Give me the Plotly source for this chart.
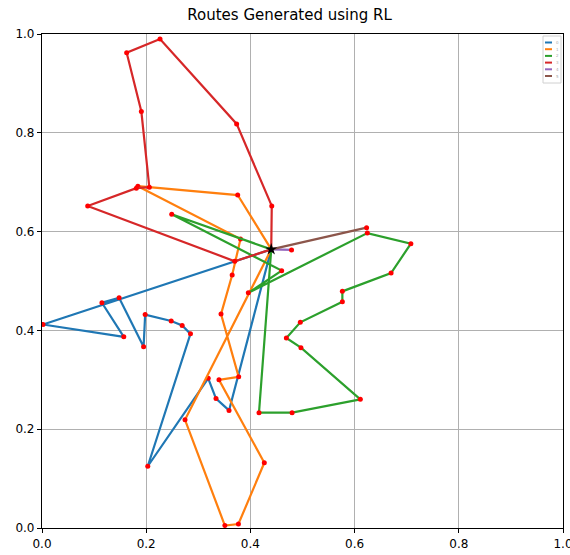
import plotly.graph_objects as go

# ---- data ----
depot_x = 0.44
depot_y = 0.564

route_names = ["0", "1", "2", "3", "4", "5"]
route_colors = ["#1f77b4", "#ff7f0e", "#2ca02c", "#d62728", "#9467bd", "#8c564b"]

route0_x = [0.44, 0.002, 0.157, 0.115, 0.148, 0.195, 0.198, 0.248, 0.269, 0.285, 0.203, 0.319, 0.334, 0.359, 0.44]
route0_y = [0.564, 0.412, 0.387, 0.456, 0.466, 0.367, 0.432, 0.419, 0.410, 0.393, 0.125, 0.303, 0.262, 0.238, 0.564]

route1_x = [0.44, 0.3756, 0.184, 0.381, 0.365, 0.3436, 0.3775, 0.3397, 0.4267, 0.377, 0.351, 0.2745, 0.44]
route1_y = [0.564, 0.674, 0.692, 0.585, 0.512, 0.433, 0.306, 0.300, 0.132, 0.008, 0.005, 0.219, 0.564]

route2_x = [0.44, 0.249, 0.460, 0.396, 0.6244, 0.708, 0.670, 0.5765, 0.5765, 0.4958, 0.469, 0.497, 0.611, 0.480, 0.4165, 0.44]
route2_y = [0.564, 0.635, 0.521, 0.476, 0.597, 0.5755, 0.516, 0.479, 0.458, 0.4164, 0.3846, 0.365, 0.2605, 0.2335, 0.2335, 0.564]

route3_x = [0.44, 0.441, 0.3736, 0.2265, 0.1625, 0.1907, 0.206, 0.181, 0.0877, 0.370, 0.44]
route3_y = [0.564, 0.652, 0.818, 0.990, 0.962, 0.843, 0.690, 0.688, 0.652, 0.540, 0.564]

route4_x = [0.44, 0.479, 0.44]
route4_y = [0.564, 0.563, 0.564]

route5_x = [0.44, 0.623, 0.44]
route5_y = [0.564, 0.608, 0.564]

routes_x = [route0_x, route1_x, route2_x, route3_x, route4_x, route5_x]
routes_y = [route0_y, route1_y, route2_y, route3_y, route4_y, route5_y]

tick_vals = [0.0, 0.2, 0.4, 0.6, 0.8, 1.0]
tick_text = ["0.0", "0.2", "0.4", "0.6", "0.8", "1.0"]

W, H = 570, 555
ML, MR, MT, MB = 42, 7, 34, 27
PW, PH = W - ML - MR, H - MT - MB

fig = go.Figure()

for name, color, xs, ys in zip(route_names, route_colors, routes_x, routes_y):
    fig.add_trace(go.Scatter(x=xs, y=ys, mode="lines", name=name, showlegend=False,
                             line=dict(color=color, width=2.2)))
    fig.add_trace(go.Scatter(x=xs[1:-1], y=ys[1:-1], mode="markers", showlegend=False,
                             marker=dict(color="#ff0000", size=5, line=dict(width=0))))

fig.add_trace(go.Scatter(x=[depot_x], y=[depot_y], mode="markers", showlegend=False,
                         marker=dict(symbol="star", color="black", size=9, line=dict(width=0))))

axis_common = dict(
    range=[0, 1], tickvals=tick_vals, ticktext=tick_text,
    showgrid=True, gridcolor="#b0b0b0", gridwidth=1.2,
    showline=True, linecolor="black", linewidth=1.2, mirror=True,
    ticks="outside", ticklen=4, tickcolor="black", tickwidth=1,
    zeroline=False, automargin=False, ticklabeloverflow="allow",
    tickfont=dict(family="DejaVu Sans", size=12, color="black"),
)

# small legend box in the top-right corner (drawn in pixel-derived paper coords)
def px2paper_x(px):
    return (px - ML) / PW

def px2paper_y(py):
    return (H - MB - py) / PH

shapes = [dict(type="rect", xref="paper", yref="paper",
               x0=px2paper_x(543), x1=px2paper_x(561), y0=px2paper_y(83), y1=px2paper_y(36),
               line=dict(color="#d0d0d0", width=1), fillcolor="white", layer="above")]
annotations = []
for i, (name, color) in enumerate(zip(route_names, route_colors)):
    py = 42.5 + 6.7 * i
    shapes.append(dict(type="line", xref="paper", yref="paper",
                       x0=px2paper_x(545), x1=px2paper_x(552), y0=px2paper_y(py), y1=px2paper_y(py),
                       line=dict(color=color, width=2), layer="above"))
    annotations.append(dict(text=name, xref="paper", yref="paper", x=px2paper_x(554), y=px2paper_y(py),
                            xanchor="left", yanchor="middle", showarrow=False,
                            font=dict(size=4, color="#aaaaaa", family="DejaVu Sans")))

fig.update_layout(
    width=W, height=H,
    margin=dict(l=ML, r=MR, t=MT, b=MB, autoexpand=False),
    paper_bgcolor="white", plot_bgcolor="white",
    title=dict(text="Routes Generated using RL", x=0.508, xanchor="center", xref="container",
               y=0.973, yanchor="middle", yref="container", automargin=False,
               font=dict(family="DejaVu Sans", size=15, color="black")),
    xaxis=axis_common,
    yaxis=axis_common,
    shapes=shapes,
    annotations=annotations,
    showlegend=False,
)

fig.write_html("out.html", config={"displayModeBar": False},
               post_script="document.body.style.margin='0';document.body.style.overflow='hidden';")
